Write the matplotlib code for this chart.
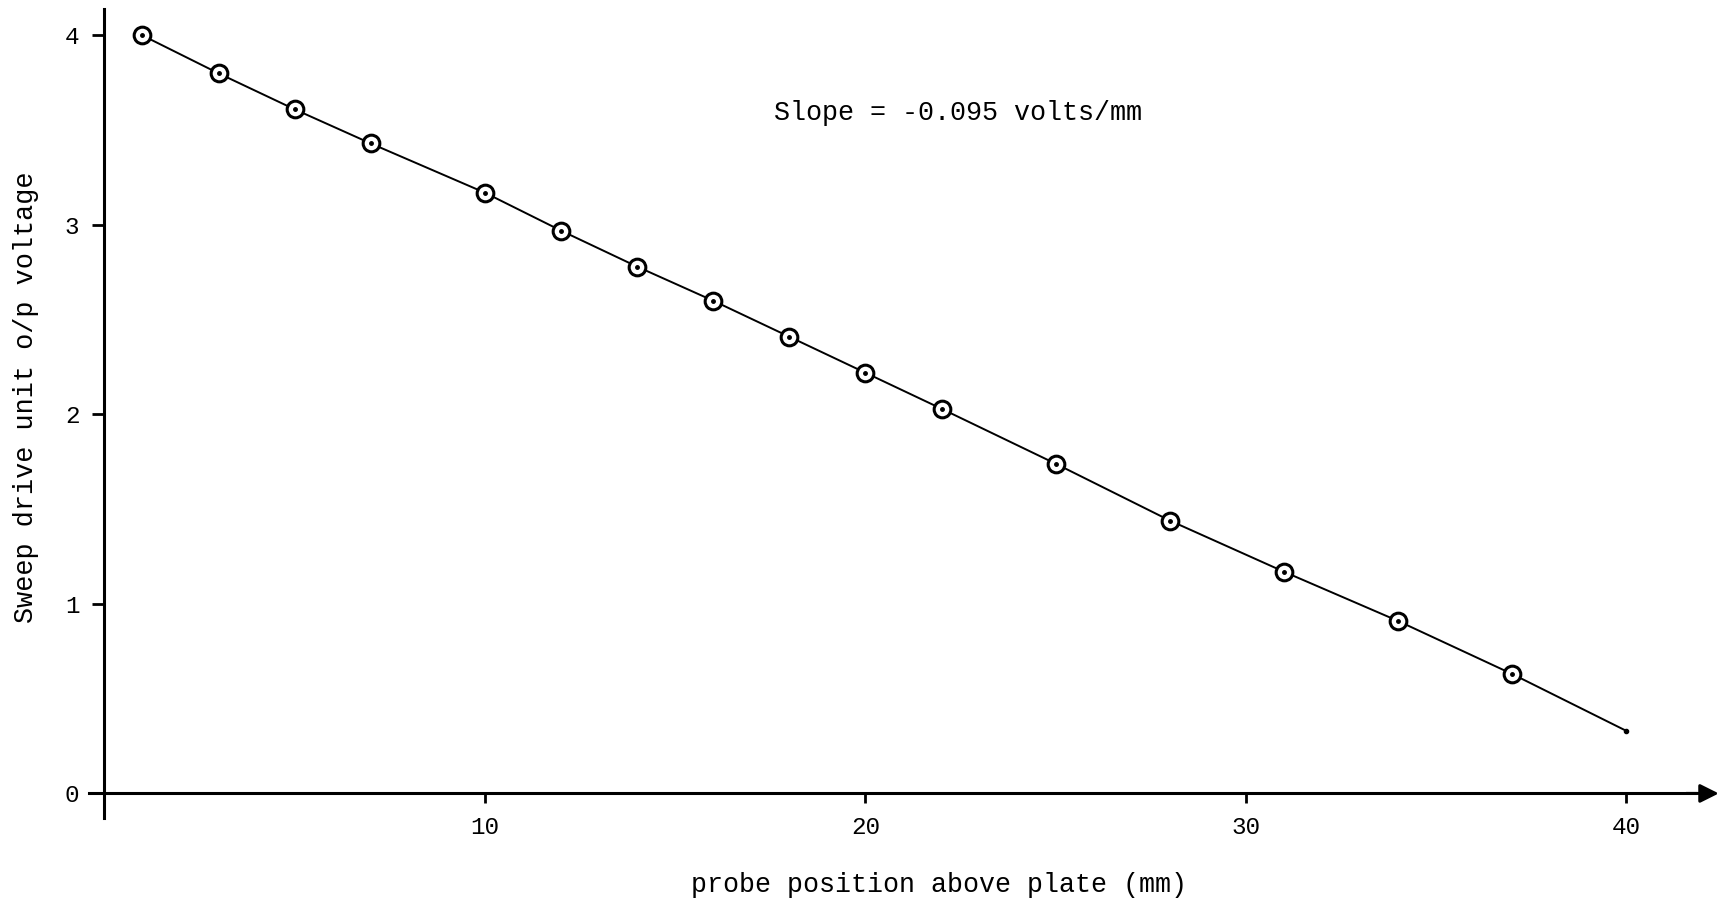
import matplotlib.pyplot as plt

# probe position (mm) and sweep drive unit output (V)
position = [1, 3, 5, 7, 10, 12, 14, 16, 18, 20, 22, 25, 28, 31, 34, 37]
voltage = [4.00, 3.80, 3.61, 3.43, 3.17, 2.97, 2.78, 2.60, 2.41, 2.22,
           2.03, 1.74, 1.44, 1.17, 0.91, 0.63]
# fitted line carried on to the end of the range
line_end = (40, 0.33)

x_ticks = [10, 20, 30, 40]
y_ticks = [0, 1, 2, 3, 4]
slope_text = 'Slope = -0.095 volts/mm'

plt.rcParams['font.family'] = ['Liberation Mono', 'DejaVu Sans Mono']

fig = plt.figure(figsize=(17.28, 9.06), dpi=100)
ax = fig.add_axes([0, 0, 1, 1])
ax.set_xlim(-2.744, 42.67)
ax.set_ylim(-0.594, 4.187)

# axes cross at the origin
for side in ['top', 'right']:
    ax.spines[side].set_visible(False)
ax.spines['left'].set_position(('data', 0))
ax.spines['bottom'].set_position(('data', 0))
ax.spines['left'].set_bounds(-0.13, 4.14)
ax.spines['bottom'].set_bounds(-0.4, 41.8)
for side in ['left', 'bottom']:
    ax.spines[side].set_linewidth(2.2)

# arrow head on the x axis
ax.annotate('', xy=(42.5, 0), xytext=(41.5, 0),
            arrowprops=dict(arrowstyle='-|>', color='black', lw=2.2,
                            mutation_scale=28))

ax.set_xticks(x_ticks)
ax.set_yticks(y_ticks)
ax.tick_params(axis='both', direction='out', width=2, labelsize=17.5)
ax.tick_params(axis='x', length=7, pad=9)
ax.tick_params(axis='y', length=9, pad=9)

# hand-drawn line through the points
ax.plot(position + [line_end[0]], voltage + [line_end[1]],
        color='black', lw=1.4)
ax.plot(*line_end, 'o', color='black', ms=3)
ax.plot(position, voltage, 'o', mfc='white', mec='black', ms=12, mew=2.2)
ax.plot(position, voltage, 'o', color='black', ms=2.5)

ax.text(17.6, 3.59, slope_text, fontsize=19.3, va='center', ha='left')
ax.text(21.93, -0.483, 'probe position above plate (mm)', fontsize=19.2,
        ha='center', va='center')
ax.text(-2.05, 2.09, 'Sweep drive unit o/p voltage', fontsize=19.4,
        rotation=90, ha='center', va='center')

fig.savefig('out.png', dpi=100)
